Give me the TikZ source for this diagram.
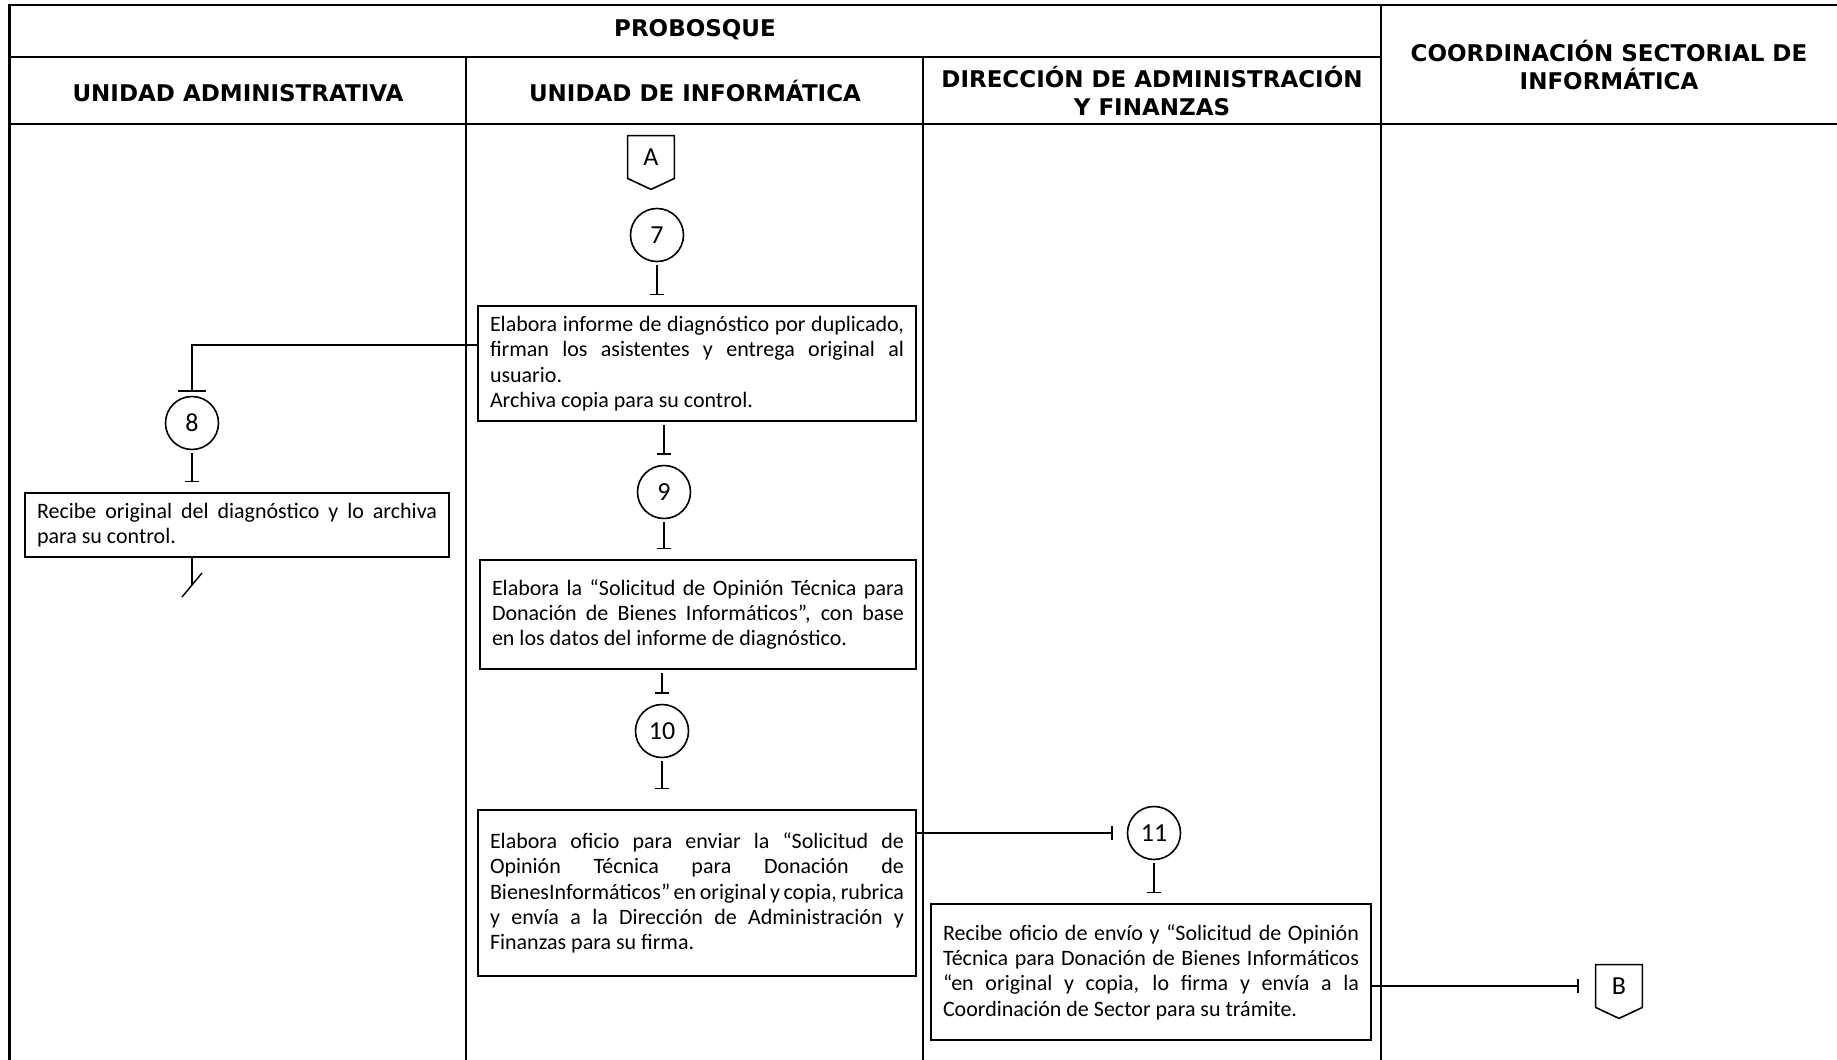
\documentclass[tikz,border=0pt]{standalone}
\usepackage{fontspec}
\setmainfont{Carlito}
\newfontfamily\headfont{DejaVu Sans}
\usetikzlibrary{arrows.meta}
\hyphenpenalty=10000
\exhyphenpenalty=10000
\tolerance=9999
\tikzset{
  lane/.style={line width=1.2pt},
  head/.style={font=\headfont\bfseries\fontsize{11.5}{14}\selectfont,align=center,inner sep=0pt},
  activity/.style={draw,line width=1pt,inner xsep=6pt,inner ysep=0pt,align=justify,
    font=\fontsize{11}{12.7}\selectfont},
  num/.style={circle,draw,line width=.8pt,minimum size=26.5pt,inner sep=0pt,
    font=\fontsize{13}{14}\selectfont},
  offpage/.style={minimum width=23pt,minimum height=21pt,inner sep=0pt,
    font=\fontsize{13}{14}\selectfont},
  flow/.style={line width=.7pt,-{Bar[width=7pt]},shorten <=1.5pt,shorten >=5pt},
}
\begin{document}
\begin{tikzpicture}[x=.5pt,y=-.5pt]
  \useasboundingbox (0,0) rectangle (1837,1060);
  % lanes
  \draw[lane] (9.4,1060) -- (9.4,5) -- (1837,5);
  \draw[lane] (9.4,57) -- (1381,57);
  \draw[lane] (9.4,124) -- (1837,124);
  \draw[lane] (466,57) -- (466,1060);
  \draw[lane] (923,57) -- (923,1060);
  \draw[lane] (1381,5) -- (1381,1060);
  \node[head,anchor=base] (probosque) at (695,36.5) {PROBOSQUE};
  \node[head,anchor=base] (hadmin) at (238,101.5) {UNIDAD ADMINISTRATIVA};
  \node[head,anchor=base] (hinfo) at (695,101.5) {UNIDAD DE INFORMÁTICA};
  \node[head] (hdaf) at (1152,91) {DIRECCIÓN DE ADMINISTRACIÓN\\Y FINANZAS};
  \node[head] (hcsi) at (1609,65) {COORDINACIÓN SECTORIAL DE\\INFORMÁTICA};

  % steps
  \node[offpage] (offA) at (651,157) {A};
  \node[num] (c7) at (657,235) {7};
  \node[activity,text width=207pt,minimum height=57.5pt] (box1) at (697,363.5)
    {Elabora informe de diagnóstico por duplicado,\linebreak firman los asistentes y entrega original al\linebreak usuario.\\Archiva copia para su control.};
  \node[num] (c8) at (192,423) {8};
  \node[activity,text width=200pt,minimum height=31.75pt] (box8) at (237,525)
    {Recibe original del diagnóstico y lo archiva\linebreak para su control.};
  \coordinate (end8) at (192,585);
  \node[num] (c9) at (664,492) {9};
  \node[activity,text width=206pt,minimum height=54.5pt] (box9) at (698,614.5)
    {Elabora la “Solicitud de Opinión Técnica para\linebreak Donación de Bienes Informáticos”, con base\linebreak en los datos del informe de diagnóstico.};
  \node[num] (c10) at (662,731) {10};
  \node[activity,text width=207pt,minimum height=83pt] (box10) at (697,893)
    {Elabora oficio para enviar la “Solicitud de\linebreak Opinión Técnica para Donación de\linebreak BienesInformáticos” en original y copia, rubrica\linebreak y envía a la Dirección de Administración y\linebreak Finanzas para su firma.};
  \node[num] (c11) at (1154,833) {11};
  \node[activity,text width=208pt,minimum height=68pt] (box11) at (1151,972)
    {Recibe oficio de envío y “Solicitud de Opinión\linebreak Técnica para Donación de Bienes Informáticos\linebreak “en original y copia, lo firma y envía a la\linebreak Coordinación de Sector para su trámite.};
  \node[offpage] (offB) at (1619,986) {B};
  \draw[line width=.8pt] (offA.north west) -- (offA.north east) -- (offA.south east)
    -- ([yshift=-5.5pt]offA.south) -- (offA.south west) -- cycle;
  \draw[line width=.8pt] (offB.north west) -- (offB.north east) -- (offB.south east)
    -- ([yshift=-5.5pt]offB.south) -- (offB.south west) -- cycle;

  % connectors
  \draw[flow] (c7.south) -- (c7 |- box1.north);
  \draw[flow,-{Bar[width=14pt]},shorten <=0pt,shorten >=2pt] ([yshift=9.25pt]box1.west) -| (c8.north);
  \draw[flow] (c8.south) -- (c8 |- box8.north);
  \draw[line width=.7pt] (c8 |- box8.south) -- (end8);
  \draw[line width=.7pt] ([shift={(5pt,6pt)}]end8) -- ([shift={(-5pt,-6pt)}]end8);
  \draw[flow] (c9 |- box1.south) -- (c9.north);
  \draw[flow] (c9.south) -- (c9 |- box9.north);
  \draw[flow] (c10 |- box9.south) -- (c10.north);
  \draw[flow,shorten >=10pt] (c10.south) -- (c10 |- box10.north);
  \draw[flow,shorten <=0pt,shorten >=7pt] (box10.east |- c11) -- (c11.west);
  \draw[flow] (c11.south) -- (c11 |- box11.north);
  \draw[flow,shorten <=0pt,shorten >=8.5pt] (box11.east |- offB) -- (offB.west);
\end{tikzpicture}
\end{document}
